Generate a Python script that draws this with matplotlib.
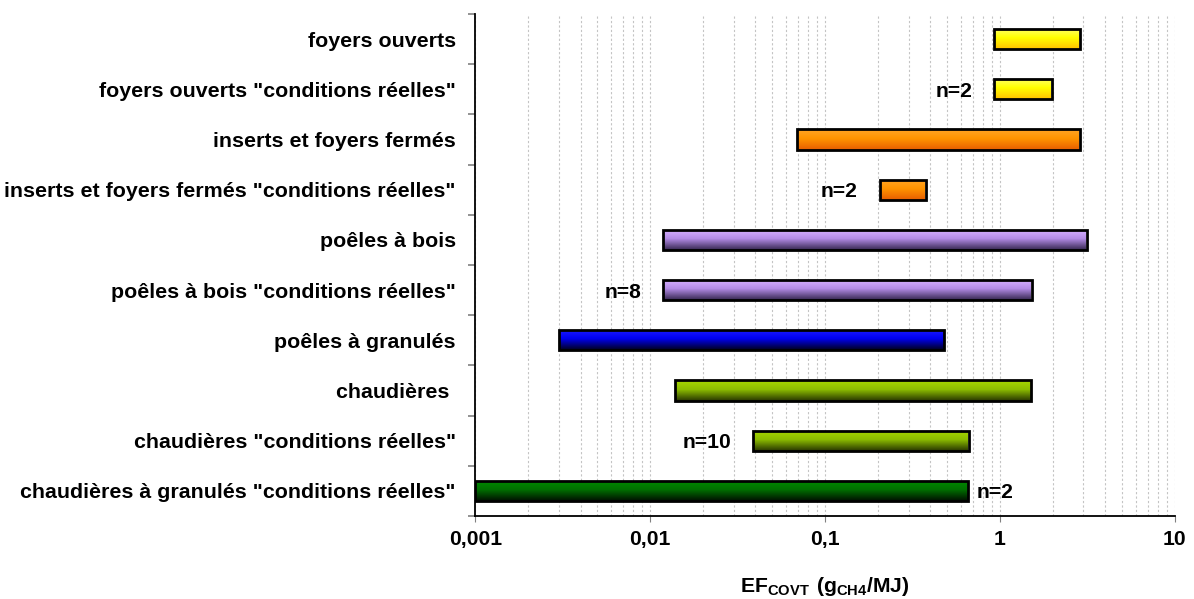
import numpy as np
import matplotlib
matplotlib.use("Agg")
import matplotlib.pyplot as plt
from matplotlib.colors import LinearSegmentedColormap
import matplotlib.transforms as mtransforms
from matplotlib.ticker import LogLocator, FixedLocator, FuncFormatter

plt.rcParams['font.family'] = ['Liberation Sans', 'DejaVu Sans']
plt.rcParams['font.weight'] = 'bold'
plt.rcParams['mathtext.fontset'] = 'custom'
plt.rcParams['mathtext.bf'] = 'Liberation Sans:bold'
plt.rcParams['mathtext.rm'] = 'Liberation Sans:bold'

# ---------------- data ----------------
categories = [
    'foyers ouverts',
    'foyers ouverts "conditions réelles"',
    'inserts et foyers fermés',
    'inserts et foyers fermés "conditions réelles"',
    'poêles à bois',
    'poêles à bois "conditions réelles"',
    'poêles à granulés',
    'chaudières ',
    'chaudières "conditions réelles"',
    'chaudières à granulés "conditions réelles"',
]
ef_min = [0.93, 0.93, 0.069, 0.206, 0.0118, 0.0119, 0.0030, 0.0138, 0.0388, 0.001]
ef_max = [2.86, 1.98, 2.86, 0.376, 3.13, 1.52, 0.48, 1.50, 0.665, 0.66]
n_labels = ['', 'n=2', '', 'n=2', '', 'n=8', '', '', 'n=10', 'n=2']
n_side = ['', 'left', '', 'left', '', 'left', '', '', 'left', 'right']
xtick_values = [0.001, 0.01, 0.1, 1, 10]
xtick_labels = ['0,001', '0,01', '0,1', '1', '10']

# gradient colours (top, middle, bottom)
bar_grads = [
    ('#ffff66', '#ffff00', '#ffc400'),
    ('#ffff66', '#ffff00', '#ffc400'),
    ('#ffa424', '#ff9400', '#e86000'),
    ('#ffa424', '#ff9400', '#e86000'),
    ('#d6b0ff', '#b48ce6', '#3c2c58'),
    ('#d6b0ff', '#b48ce6', '#3c2c58'),
    ('#1a1aff', '#0000f0', '#000028'),
    ('#a6d600', '#8cbc00', '#2c3c00'),
    ('#a6d600', '#8cbc00', '#2c3c00'),
    ('#008a00', '#007000', '#001400'),
]

FS_Y = 15.4
FS = 15.2

fig = plt.figure(figsize=(11.94, 5.99), dpi=100)
ax = fig.add_axes([0.398, 0.1386, 0.586, 0.838])

ypos = np.arange(len(categories))
widths = [b - a for a, b in zip(ef_min, ef_max)]
bar_h = 0.40
bars = ax.barh(ypos, widths, left=ef_min, height=bar_h, color='none',
               edgecolor='black', linewidth=2.0, zorder=4)

ax.set_xscale('log')
ax.set_xlim(0.001, 10)
ax.set_ylim(len(categories) - 0.5, -0.5)

# gradient fill inside each bar
for rect, (c1, c2, c3) in zip(bars.patches, bar_grads):
    cmap = LinearSegmentedColormap.from_list('g', [(0, c1), (0.45, c2), (1, c3)])
    grad = np.linspace(0, 1, 64).reshape(-1, 1)
    y0 = rect.get_y()
    y1 = y0 + rect.get_height()
    trans = mtransforms.blended_transform_factory(ax.transAxes, ax.transData)
    im = ax.imshow(grad, cmap=cmap, aspect='auto', extent=[0, 1, y1, y0],
                   origin='upper', transform=trans, zorder=3,
                   interpolation='bilinear')
    im.set_clip_path(rect)

ax.set_xlim(0.001, 10)
ax.set_ylim(len(categories) - 0.5, -0.5)

# n labels
for i, (lab, side) in enumerate(zip(n_labels, n_side)):
    if not lab:
        continue
    if side == 'left':
        ax.annotate(lab, xy=(ef_min[i], ypos[i]), xytext=(-22, -2),
                    textcoords='offset pixels', ha='right', va='center',
                    fontsize=FS, fontweight='bold', zorder=5)
    else:
        ax.annotate(lab, xy=(ef_max[i], ypos[i]), xytext=(8, -2),
                    textcoords='offset pixels', ha='left', va='center',
                    fontsize=FS, fontweight='bold', zorder=5)

# axes styling
for s in ['top', 'right']:
    ax.spines[s].set_visible(False)
ax.spines['left'].set_linewidth(1.3)
ax.spines['bottom'].set_linewidth(1.3)

ax.xaxis.set_major_locator(FixedLocator(xtick_values))
ax.set_xticklabels(xtick_labels)
ax.xaxis.set_minor_locator(LogLocator(base=10, subs=np.arange(2, 10)))
ax.xaxis.set_minor_formatter(FuncFormatter(lambda v, p: ''))
ax.tick_params(axis='x', which='major', length=4, color='#808080', pad=6,
               labelsize=FS)
ax.tick_params(axis='x', which='minor', length=0)
ax.grid(axis='x', which='both', linestyle=(0, (2, 2)), color='#c4c4c4',
        linewidth=0.8, zorder=0)
ax.set_axisbelow(True)

ax.set_yticks(ypos)
ax.set_yticklabels(categories, fontsize=FS_Y, fontweight='bold')
ax.yaxis.set_minor_locator(FixedLocator(np.arange(-0.5, len(categories), 1.0)))
ax.tick_params(axis='y', which='major', length=0, pad=14)
ax.tick_params(axis='y', which='minor', length=5, color='#808080', width=1.2)

ax.set_xlabel(r'$\mathbf{EF_{COVT}\ (g_{CH4}/MJ)}$', fontsize=FS, labelpad=19)

fig.savefig('out.png', dpi=100)
